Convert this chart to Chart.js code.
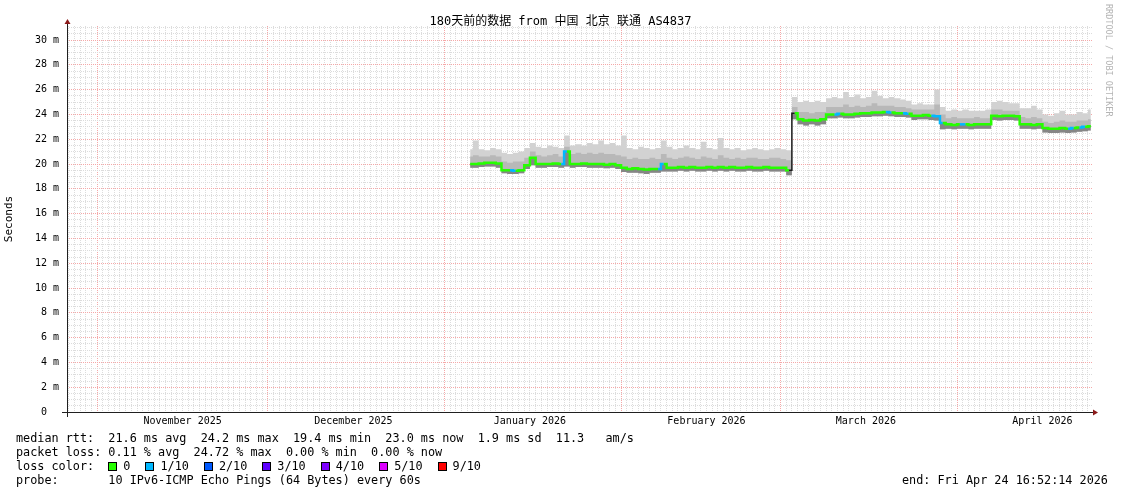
<!DOCTYPE html>
<html lang="zh-CN">
<head>
<meta charset="utf-8">
<title>SmokePing 180天</title>
<script src="https://cdn.jsdelivr.net/npm/chart.js@4.4.1/dist/chart.umd.min.js"></script>
<style>
  body { margin: 0; background: #fff; }
  #quadro { position: relative; width: 1121px; height: 494px; overflow: hidden; }
  #meuGrafico { position: absolute; left: 0; top: 0; }
  .texto { position: absolute; font-family: 'DejaVu Sans Mono', monospace; white-space: pre; color: #000; }
  #titulo { left: 0; width: 1121px; top: 14px; font-size: 12px; line-height: 14px; text-align: center; font-family: 'DejaVu Sans Mono', 'Noto Sans CJK SC', monospace; }
  .legenda { left: 16px; font-size: 11.8px; line-height: 14px; }
  .caixa { display: inline-block; width: 9px; height: 9px; border: 1px solid #000; box-sizing: border-box; margin-right: 6px; vertical-align: -1px; }
  .item { margin-right: 15px; }
  #credito { left: 1104px; top: 4px; font-size: 8.5px; line-height: 10px; color: #b4b4b4; writing-mode: vertical-rl; }
</style>
</head>
<body>
<div id="quadro">
  <canvas id="meuGrafico" width="1121" height="494"></canvas>
  <div id="titulo" class="texto">180天前的数据 from 中国 北京 联通 AS4837</div>
  <div id="credito" class="texto">RRDTOOL / TOBI OETIKER</div>
  <div class="texto legenda" style="top:431px">median rtt:  21.6 ms avg  24.2 ms max  19.4 ms min  23.0 ms now  1.9 ms sd  11.3   am/s</div>
  <div class="texto legenda" style="top:445px">packet loss: 0.11 % avg  24.72 % max  0.00 % min  0.00 % now</div>
  <div class="texto legenda" id="linhaPerda" style="top:459px">loss color:  </div>
  <div class="texto legenda" style="top:473px">probe:       10 IPv6-ICMP Echo Pings (64 Bytes) every 60s</div>
  <div class="texto legenda" style="top:473px; left:902px">end: Fri Apr 24 16:52:14 2026</div>
</div>
<script>
// janela de 180 dias terminando em Fri Apr 24 16:52:14 2026
const INICIO = Date.UTC(2025, 9, 26, 16, 52, 14);
const DIAS_TOTAL = 180;
const DIA = 86400000;
// primeira amostra diaria (meio-dia), uma por dia ate 24 Apr
const PRIMEIRA_AMOSTRA = Date.UTC(2026, 0, 5, 12, 0, 0);

const MESES = ['January', 'February', 'March', 'April', 'May', 'June', 'July',
  'August', 'September', 'October', 'November', 'December'];

// mediana (ms)
const mediana = [
  20.0, 20.0, 20.05, 20.1, 20.1, 20.05,
  19.5, 19.5, 19.45, 19.5,
  19.9, 20.5,
  20.0, 20.0, 20.0, 20.05, 20.0, 21.0,
  20.0, 20.0, 20.05, 20.0, 20.0, 20.0, 19.95, 20.0, 19.9,
  19.7, 19.6, 19.65, 19.6, 19.55, 19.6, 19.6, 20.0, 19.7, 19.7,
  19.75, 19.7, 19.75, 19.7, 19.7, 19.75, 19.7, 19.75, 19.7, 19.75,
  19.7, 19.7, 19.75, 19.7, 19.7, 19.75, 19.7, 19.7, 19.7, 19.5,
  24.1,
  23.6, 23.5, 23.55, 23.5, 23.6,
  24.0, 24.0, 24.05, 24.0, 24.0, 24.05, 24.1, 24.1, 24.15, 24.15, 24.2, 24.15, 24.1, 24.1, 24.05,
  23.9, 23.9, 23.95, 23.9, 23.85,
  23.3,
  23.2, 23.15, 23.2, 23.2, 23.15, 23.2, 23.2, 23.2,
  23.9, 23.85, 23.9, 23.9, 23.85,
  23.2, 23.2, 23.15, 23.2,
  22.9, 22.85, 22.85, 22.9, 22.85, 22.9, 22.95, 23.0, 23.05
];

// fumaca: maximo, faixa do meio e minimo dos pings
const fumacaMax = [
  21.2, 21.9, 21.2, 21.1, 21.3, 21.2,
  20.9, 20.8, 20.9, 21.0,
  21.3, 21.7,
  21.4, 21.3, 21.5, 21.4, 21.3, 22.3,
  21.5, 21.6, 21.5, 21.7, 21.6, 21.9, 21.6, 21.7, 21.5,
  22.3, 21.3, 21.2, 21.4, 21.3, 21.2, 21.3, 21.9, 21.4, 21.2,
  21.3, 21.5, 21.3, 21.2, 21.8, 21.3, 21.2, 22.1, 21.3, 21.2,
  21.3, 21.1, 21.2, 21.3, 21.2, 21.1, 21.2, 21.3, 21.2, 21.1,
  25.4,
  25.0, 25.1, 25.0, 25.1, 25.0,
  25.3, 25.4, 25.3, 25.8, 25.4, 25.6, 25.3, 25.4, 25.9, 25.5, 25.3, 25.4, 25.3, 25.2, 25.1,
  24.8, 24.9, 24.8, 24.8, 26.0,
  24.6,
  24.3, 24.4, 24.3, 24.4, 24.3, 24.3, 24.3, 24.4,
  25.0, 25.1, 25.0, 24.9, 24.9,
  24.5, 24.5, 24.7, 24.4,
  24.0, 23.9, 24.1, 24.3, 24.0, 24.0, 24.2, 24.1, 24.4
];

const fumacaMeio = [
  20.6, 20.7, 20.6, 20.6, 20.7, 20.6,
  20.2, 20.1, 20.2, 20.2,
  20.5, 21.0,
  20.7, 20.6, 20.7, 20.8, 20.6, 21.4,
  20.8, 20.9, 20.8, 20.9, 20.8, 20.9, 20.8, 20.8, 20.7,
  20.6, 20.4, 20.5, 20.4, 20.4, 20.5, 20.4, 20.8, 20.5, 20.4,
  20.5, 20.6, 20.5, 20.4, 20.6, 20.5, 20.4, 20.7, 20.5, 20.4,
  20.5, 20.4, 20.5, 20.5, 20.4, 20.4, 20.5, 20.5, 20.4, 20.3,
  24.6,
  24.2, 24.2, 24.1, 24.2, 24.2,
  24.6, 24.6, 24.6, 24.8, 24.6, 24.7, 24.6, 24.7, 24.9, 24.7, 24.7, 24.7, 24.6, 24.6, 24.5,
  24.4, 24.4, 24.4, 24.4, 24.8,
  24.0,
  23.7, 23.8, 23.7, 23.7, 23.7, 23.8, 23.7, 23.7,
  24.4, 24.4, 24.3, 24.3, 24.3,
  23.8, 23.7, 23.8, 23.7,
  23.4, 23.3, 23.4, 23.5, 23.4, 23.4, 23.5, 23.5, 23.6
];

const fumacaMin = [
  19.7, 19.7, 19.75, 19.8, 19.8, 19.7,
  19.25, 19.2, 19.2, 19.25,
  19.6, 19.9,
  19.7, 19.7, 19.75, 19.75, 19.7, 19.8,
  19.7, 19.75, 19.75, 19.7, 19.7, 19.7, 19.65, 19.7, 19.6,
  19.35, 19.3, 19.3, 19.25, 19.2, 19.3, 19.3, 19.4, 19.4, 19.4,
  19.45, 19.4, 19.45, 19.4, 19.4, 19.45, 19.4, 19.45, 19.4, 19.45,
  19.4, 19.4, 19.45, 19.4, 19.4, 19.45, 19.4, 19.4, 19.4, 19.1,
  23.6,
  23.2, 23.1, 23.2, 23.1, 23.2,
  23.7, 23.7, 23.75, 23.7, 23.7, 23.75, 23.8, 23.8, 23.85, 23.85, 23.9, 23.85, 23.8, 23.8, 23.75,
  23.55, 23.6, 23.6, 23.55, 23.5,
  22.8,
  22.85, 22.8, 22.85, 22.85, 22.8, 22.85, 22.85, 22.85,
  23.55, 23.5, 23.55, 23.55, 23.5,
  22.85, 22.85, 22.8, 22.85,
  22.55, 22.5, 22.5, 22.55, 22.5, 22.55, 22.6, 22.65, 22.7
];

// perda de pacotes por amostra, em decimos
const perda = [
  0, 0, 0, 0, 0, 0, 0, 0, 1, 0,
  0, 0, 0, 0, 0, 0, 0, 1, 0, 0,
  0, 0, 0, 0, 0, 0, 0, 0, 0, 0,
  0, 0, 0, 0, 1, 0, 0, 0, 0, 0,
  0, 0, 0, 0, 0, 0, 0, 0, 0, 0,
  0, 0, 0, 0, 0, 0, 0, 0, 0, 0,
  0, 0, 0, 0, 0, 1, 0, 0, 0, 0,
  0, 0, 0, 0, 1, 0, 0, 1, 0, 0,
  0, 0, 1, 1, 0, 0, 0, 1, 0, 0,
  0, 0, 0, 0, 0, 0, 0, 0, 0, 0,
  0, 0, 0, 0, 0, 0, 1, 0, 1, 0
];

const perdaRotulos = ['0', '1/10', '2/10', '3/10', '4/10', '5/10', '9/10'];
const perdaCores = ['#26ff00', '#00b8ff', '#0059ff', '#5e00ff', '#7e00ff', '#dd00ff', '#ff0000'];
const perdaDecimos = [0, 1, 2, 3, 4, 5, 9];

const COR_MAIOR = '#f5a8a8';
const COR_MENOR = '#dcdcdc';

function diaDoGrafico(ms) {
  return (ms - INICIO) / DIA;
}

function pontos(valores) {
  return valores.map((v, i) => ({ x: diaDoGrafico(PRIMEIRA_AMOSTRA + i * DIA), y: v }));
}

function corDaPerda(decimos) {
  let k = perdaDecimos.indexOf(decimos);
  return k === -1 ? perdaCores[perdaCores.length - 1] : perdaCores[k];
}

function montarLegenda() {
  const linha = document.getElementById('linhaPerda');
  perdaRotulos.forEach((rotulo, i) => {
    const caixa = document.createElement('span');
    caixa.className = 'caixa';
    caixa.style.background = perdaCores[i];
    const txt = document.createElement('span');
    txt.className = 'item';
    txt.textContent = rotulo;
    linha.appendChild(caixa);
    linha.appendChild(txt);
  });
}

// eixos com setas no estilo rrdtool
const eixos = {
  id: 'eixos',
  afterDraw(chart) {
    const { ctx, chartArea: a } = chart;
    const x0 = a.left + 0.5;
    const y0 = a.bottom + 0.5;
    ctx.save();
    ctx.strokeStyle = '#202020';
    ctx.lineWidth = 1;
    ctx.beginPath();
    ctx.moveTo(x0, a.bottom + 5);
    ctx.lineTo(x0, a.top - 3);
    ctx.moveTo(a.left - 5, y0);
    ctx.lineTo(a.right + 2, y0);
    ctx.stroke();
    ctx.fillStyle = '#8b1a1a';
    ctx.beginPath();
    ctx.moveTo(x0 - 3, a.top - 2);
    ctx.lineTo(x0 + 3, a.top - 2);
    ctx.lineTo(x0, a.top - 7);
    ctx.closePath();
    ctx.fill();
    ctx.beginPath();
    ctx.moveTo(a.right + 1, y0 - 3);
    ctx.lineTo(a.right + 1, y0 + 3);
    ctx.lineTo(a.right + 6, y0);
    ctx.closePath();
    ctx.fill();
    ctx.restore();
  }
};

function criarGrafico() {
  montarLegenda();
  const canvas = document.getElementById('meuGrafico');
  const contexto = canvas.getContext('2d');
  const fonte = 'DejaVu Sans Mono';

  // @ts-ignore
  new Chart(contexto, {
    type: 'line',
    data: {
      datasets: [
        {
          label: 'median',
          data: pontos(mediana),
          stepped: 'middle',
          borderWidth: 2.5,
          borderColor: '#26ff00',
          pointRadius: 0,
          fill: false,
          order: 0,
          segment: {
            borderColor: (c) => {
              if (Math.abs(c.p1.parsed.y - c.p0.parsed.y) > 2) return '#1a1a1a';
              return corDaPerda(perda[c.p1DataIndex]);
            },
            borderWidth: (c) => (Math.abs(c.p1.parsed.y - c.p0.parsed.y) > 2 ? 1.5 : undefined),
          },
        },
        {
          label: 'escuro',
          data: pontos(mediana),
          stepped: 'middle',
          borderWidth: 0,
          pointRadius: 0,
          fill: 4,
          backgroundColor: 'rgba(60,60,60,0.4)',
          order: 1,
        },
        {
          label: 'meio',
          data: pontos(fumacaMeio),
          stepped: 'middle',
          borderWidth: 0,
          pointRadius: 0,
          fill: 4,
          backgroundColor: '#b8b8b8',
          order: 2,
        },
        {
          label: 'max',
          data: pontos(fumacaMax),
          stepped: 'middle',
          borderWidth: 0,
          pointRadius: 0,
          fill: 4,
          backgroundColor: '#d2d2d2',
          order: 3,
        },
        {
          label: 'min',
          data: pontos(fumacaMin),
          stepped: 'middle',
          borderWidth: 0,
          pointRadius: 0,
          fill: false,
          order: 4,
        },
      ],
    },
    options: {
      responsive: false,
      animation: false,
      layout: { padding: { top: 26, right: 29, left: 0, bottom: 0 } },
      plugins: {
        legend: { display: false },
        tooltip: { enabled: false },
      },
      scales: {
        x: {
          type: 'linear',
          min: 0,
          max: DIAS_TOTAL,
          afterFit: (s) => { s.height = 82; },
          afterBuildTicks: (s) => {
            const lista = [];
            let d = new Date(INICIO);
            let t = Date.UTC(d.getUTCFullYear(), d.getUTCMonth(), d.getUTCDate() + 1);
            for (; t < INICIO + DIAS_TOTAL * DIA; t += DIA) {
              lista.push({ value: diaDoGrafico(t), inicioMes: new Date(t).getUTCDate() === 1 });
            }
            s.ticks = lista;
          },
          grid: {
            drawTicks: false,
            color: (c) => (c.tick && c.tick.inicioMes ? COR_MAIOR : COR_MENOR),
          },
          border: { display: false, dash: [1, 1] },
          ticks: {
            autoSkip: false,
            maxRotation: 0,
            padding: 3,
            color: '#000',
            font: { family: fonte, size: 10 },
            callback: (v) => {
              const d = new Date(Math.round(INICIO + v * DIA));
              if (d.getUTCDate() !== 16) return '';
              return MESES[d.getUTCMonth()] + ' ' + d.getUTCFullYear();
            },
          },
        },
        y: {
          min: 0,
          max: 31.13,
          afterFit: (s) => { s.width = 67; },
          afterBuildTicks: (s) => {
            const lista = [];
            for (let v = 0; v <= 31; v += 0.5) lista.push({ value: v });
            s.ticks = lista;
          },
          grid: {
            drawTicks: false,
            color: (c) => (c.tick && c.tick.value % 2 === 0 ? COR_MAIOR : COR_MENOR),
          },
          border: { display: false, dash: [1, 1] },
          title: {
            display: true,
            text: 'Seconds',
            color: '#000',
            font: { family: fonte, size: 11 },
            padding: { top: 3, bottom: 0 },
          },
          ticks: {
            autoSkip: false,
            padding: 8,
            color: '#000',
            font: { family: fonte, size: 10 },
            callback: (v) => {
              if (v === 0) return '0  ';
              return v % 2 === 0 ? v + ' m' : '';
            },
          },
        },
      },
    },
    plugins: [eixos],
  });
}

document.addEventListener('DOMContentLoaded', criarGrafico);
</script>
</body>
</html>
